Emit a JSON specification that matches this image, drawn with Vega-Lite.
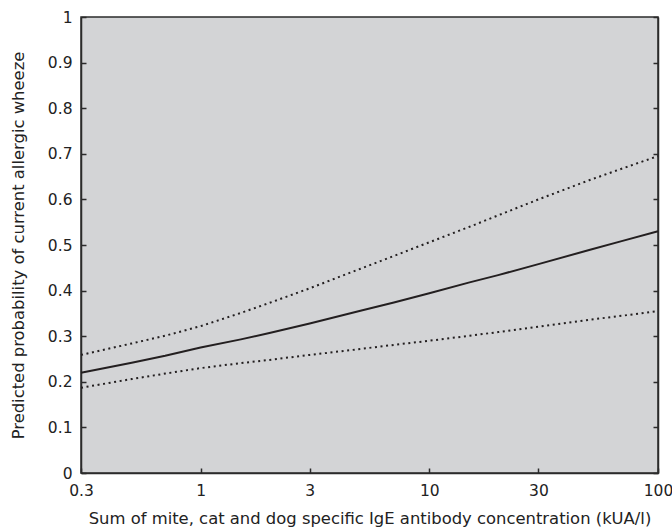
{
  "$schema": "https://vega.github.io/schema/vega-lite/v6.json",
  "width": 577,
  "height": 456,
  "autosize": {"type": "none"},
  "padding": {"left": 81, "top": 17, "right": 14, "bottom": 57},
  "background": "white",
  "config": {
    "view": {"fill": "#d3d4d6", "stroke": "#2b2b2b", "strokeWidth": 1.5},
    "font": "DejaVu Sans",
    "axis": {
      "labelFont": "DejaVu Sans",
      "titleFont": "DejaVu Sans",
      "labelFontSize": 15.5,
      "titleFontSize": 16.4,
      "labelColor": "#222",
      "titleColor": "#222",
      "titleFontWeight": "normal",
      "domainColor": "#2b2b2b",
      "domainWidth": 1.5,
      "tickColor": "#2b2b2b",
      "tickWidth": 1.5,
      "grid": false
    }
  },
  "data": {
    "values": [
      {"x": 0.3, "mid": 0.220, "upper": 0.259, "lower": 0.187},
      {"x": 0.5, "mid": 0.242, "upper": 0.284, "lower": 0.206},
      {"x": 0.7, "mid": 0.257, "upper": 0.301, "lower": 0.218},
      {"x": 1, "mid": 0.275, "upper": 0.322, "lower": 0.230},
      {"x": 1.5, "mid": 0.293, "upper": 0.351, "lower": 0.241},
      {"x": 2, "mid": 0.307, "upper": 0.373, "lower": 0.248},
      {"x": 3, "mid": 0.328, "upper": 0.405, "lower": 0.259},
      {"x": 5, "mid": 0.356, "upper": 0.448, "lower": 0.272},
      {"x": 7, "mid": 0.374, "upper": 0.476, "lower": 0.281},
      {"x": 10, "mid": 0.394, "upper": 0.506, "lower": 0.290},
      {"x": 15, "mid": 0.418, "upper": 0.540, "lower": 0.301},
      {"x": 20, "mid": 0.434, "upper": 0.565, "lower": 0.309},
      {"x": 30, "mid": 0.458, "upper": 0.600, "lower": 0.321},
      {"x": 50, "mid": 0.489, "upper": 0.642, "lower": 0.336},
      {"x": 70, "mid": 0.509, "upper": 0.668, "lower": 0.345},
      {"x": 100, "mid": 0.530, "upper": 0.695, "lower": 0.355}
    ]
  },
  "encoding": {
    "x": {
      "field": "x",
      "type": "quantitative",
      "scale": {"type": "log", "domain": [0.3, 100], "nice": false},
      "axis": {
        "values": [0.3, 1, 3, 10, 30, 100],
        "format": "~g",
        "tickSize": -5,
        "labelPadding": 15,
        "labelFlush": false,
        "title": "Sum of mite, cat and dog specific IgE antibody concentration (kUA/l)",
        "titlePadding": 12
      }
    }
  },
  "layer": [
    {
      "mark": {"type": "line", "color": "#231f20", "strokeWidth": 2},
      "encoding": {
        "y": {
          "field": "mid",
          "type": "quantitative",
          "scale": {"domain": [0, 1], "nice": false},
          "axis": {
            "orient": "left",
            "values": [0, 0.1, 0.2, 0.3, 0.4, 0.5, 0.6, 0.7, 0.8, 0.9, 1],
            "format": ".1~f",
            "tickSize": -5,
            "labelPadding": 14,
            "labelFlush": false,
            "title": "Predicted probability of current allergic wheeze",
            "titlePadding": 21
          }
        }
      }
    },
    {
      "mark": {"type": "line", "color": "#231f20", "strokeWidth": 2, "strokeDash": [2, 3.6], "strokeCap": "butt"},
      "encoding": {
        "y": {
          "field": "upper",
          "type": "quantitative",
          "scale": {"domain": [0, 1], "nice": false},
          "axis": {
            "orient": "right",
            "values": [0, 0.1, 0.2, 0.3, 0.4, 0.5, 0.6, 0.7, 0.8, 0.9, 1],
            "tickSize": -5,
            "labels": false,
            "title": null
          }
        }
      }
    },
    {
      "mark": {"type": "line", "color": "#231f20", "strokeWidth": 2, "strokeDash": [2, 3.6], "strokeCap": "butt"},
      "encoding": {
        "y": {"field": "lower", "type": "quantitative", "scale": {"domain": [0, 1], "nice": false}, "axis": null}
      }
    }
  ],
  "resolve": {"axis": {"y": "independent"}}
}
